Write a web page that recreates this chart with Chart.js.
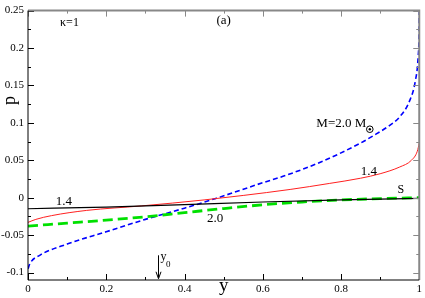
<!DOCTYPE html>
<html lang="en">
<head>
  <meta charset="UTF-8">
  <title>p vs y</title>
  <script src="https://cdn.jsdelivr.net/npm/chart.js"></script>
  <style>
    body { margin: 0; background: white; }
    #wrap { width: 425px; height: 298px; position: relative; }
  </style>
</head>
<body>
  <div id="wrap"><canvas id="myChart"></canvas></div>
  <script>
    // values
    const blueX = [0, 0.005, 0.03, 0.1, 0.2, 0.3, 0.4, 0.48, 0.6, 0.66, 0.75, 0.85, 0.88, 0.92, 0.95, 0.975, 0.99, 0.997, 0.9995, 1.0];
    const blueP = [-0.095, -0.088, -0.077, -0.062, -0.0455, -0.029, -0.014, -0.001, 0.020, 0.030, 0.048, 0.073, 0.082, 0.095, 0.108, 0.129, 0.156, 0.187, 0.221, 0.25];

    const redX = [0, 0.02, 0.06, 0.15, 0.29, 0.45, 0.55, 0.67, 0.77, 0.85, 0.9, 0.95, 0.98, 0.995, 1.0];
    const redP = [-0.033, -0.029, -0.024, -0.017, -0.011, -0.003, 0.003, 0.011, 0.019, 0.026, 0.032, 0.041, 0.050, 0.062, 0.073];

    const blackX = [0, 0.2, 0.4, 0.6, 0.8, 1.0];
    const blackP = [-0.0148, -0.0125, -0.0092, -0.0058, -0.003, -0.0008];

    const greenX = [0, 0.1, 0.2, 0.3, 0.4, 0.5, 0.6, 0.7, 0.8, 0.9, 1.0];
    const greenP = [-0.038, -0.034, -0.030, -0.0255, -0.020, -0.0145, -0.0095, -0.0058, -0.003, -0.0012, 0];

    const xMajor = [0, 0.2, 0.4, 0.6, 0.8, 1.0];
    const yMajor = [-0.1, -0.05, 0, 0.05, 0.1, 0.15, 0.2, 0.25];

    const pts = (xs, ys) => xs.map((x, i) => ({ x: x, y: ys[i] }));
    const fmt = v => String(Number(v.toFixed(3)));

    const serif = '"Liberation Serif", "DejaVu Serif", serif';

    // frame, inward ticks and the text labels
    const decor = {
      id: 'decor',
      afterDraw(chart) {
        const ctx = chart.ctx;
        const a = chart.chartArea;
        const xs = chart.scales.x, ys = chart.scales.y;
        ctx.save();

        // ticks
        const tick = (px, py, dx, dy, col) => {
          ctx.strokeStyle = col;
          ctx.lineWidth = 1;
          ctx.beginPath();
          ctx.moveTo(px, py);
          ctx.lineTo(px + dx, py + dy);
          ctx.stroke();
        };
        for (let i = 0; i <= 10; i++) {
          const v = i / 10;
          const len = i % 2 === 0 ? 6 : 3;
          const px = Math.round(xs.getPixelForValue(v)) + 0.5;
          tick(px, a.bottom, 0, -len, '#000');
          tick(px, a.top, 0, len, '#888');
        }
        for (let i = -4; i <= 10; i++) {
          const v = i * 0.025;
          const len = i % 2 === 0 ? 6 : 3;
          const py = Math.round(ys.getPixelForValue(v)) + 0.5;
          tick(a.left, py, len, 0, '#000');
          tick(a.right, py, -len, 0, '#888');
        }

        // frame
        ctx.lineWidth = 2;
        ctx.strokeStyle = '#888';
        ctx.beginPath();
        ctx.moveTo(a.left, a.top);
        ctx.lineTo(a.right, a.top);
        ctx.lineTo(a.right, a.bottom);
        ctx.stroke();
        ctx.lineWidth = 1;
        ctx.strokeStyle = '#000';
        ctx.beginPath();
        ctx.moveTo(a.left, a.top);
        ctx.lineTo(a.left, a.bottom);
        ctx.lineTo(a.right, a.bottom);
        ctx.stroke();

        // labels
        const X = v => xs.getPixelForValue(v);
        const Y = v => ys.getPixelForValue(v);
        ctx.fillStyle = '#000';
        ctx.textBaseline = 'middle';
        ctx.textAlign = 'center';
        ctx.font = '12px ' + serif;
        ctx.fillText('\u03ba=1', X(0.106), Y(0.233));
        ctx.font = '13px ' + serif;
        ctx.fillText('(a)', X(0.5), Y(0.236));
        ctx.fillText('1.4', X(0.092), Y(-0.0052));
        ctx.fillText('1.4', X(0.871), Y(0.0353));
        ctx.fillText('2.0', X(0.478), Y(-0.0275));
        ctx.font = '12px ' + serif;
        ctx.fillText('S', X(0.953), Y(0.010));

        ctx.textAlign = 'left';
        ctx.font = '13px ' + serif;
        const mx = X(0.737), my = Y(0.0995);
        ctx.fillText('M=2.0 M', mx, my);
        const w = ctx.measureText('M=2.0 M').width;
        // sun symbol as subscript
        ctx.lineWidth = 1;
        ctx.beginPath();
        ctx.arc(mx + w + 3.5, my + 6, 3.3, 0, Math.PI * 2);
        ctx.stroke();
        ctx.beginPath();
        ctx.arc(mx + w + 3.5, my + 6, 1.2, 0, Math.PI * 2);
        ctx.fill();

        // y0 arrow
        const ax = Math.round(X(0.333)) + 0.5;
        ctx.beginPath();
        ctx.moveTo(ax, Y(-0.077));
        ctx.lineTo(ax, Y(-0.107));
        ctx.stroke();
        ctx.beginPath();
        ctx.moveTo(ax - 2.5, Y(-0.107) - 6);
        ctx.lineTo(ax, Y(-0.107) + 1);
        ctx.lineTo(ax + 2.5, Y(-0.107) - 6);
        ctx.stroke();
        ctx.font = '12px ' + serif;
        ctx.fillText('y', ax + 2, Y(-0.079));
        ctx.font = '9px ' + serif;
        ctx.fillText('0', ax + 7.5, Y(-0.090));

        // axis titles
        ctx.textAlign = 'center';
        ctx.textBaseline = 'alphabetic';
        ctx.font = '19px ' + serif;
        ctx.fillText('y', X(0.5), 291);
        ctx.save();
        ctx.translate(15, Y(0.13));
        ctx.rotate(-Math.PI / 2);
        ctx.font = '18px ' + serif;
        ctx.fillText('p', 0, 0);
        ctx.restore();

        ctx.restore();
      }
    };

    const line = (xs, ys, color, width, dash) => ({
      data: pts(xs, ys),
      borderColor: color,
      borderWidth: width,
      borderDash: dash,
      showLine: true,
      pointRadius: 0,
      cubicInterpolationMode: 'monotone',
      fill: false
    });

    const myChart = new Chart(document.getElementById('myChart'), {
      type: 'scatter',
      data: {
        datasets: [
          line(blackX, blackP, '#000000', 1.2, []),
          line(redX, redP, '#ff2020', 1, []),
          line(greenX, greenP, '#00e000', 2.8, [10, 5]),
          line(blueX, blueP, '#0000ff', 1.6, [5, 3])
        ]
      },
      options: {
        animation: false,
        responsive: true,
        maintainAspectRatio: false,
        layout: { padding: { left: 0, right: 5, top: 5, bottom: 0 } },
        plugins: { legend: { display: false }, tooltip: { enabled: false } },
        scales: {
          x: {
            type: 'linear',
            min: 0,
            max: 1,
            grid: { display: false, drawTicks: false },
            border: { display: false },
            afterBuildTicks: s => { s.ticks = xMajor.map(v => ({ value: v })); },
            afterFit: s => { s.height = 18; },
            ticks: {
              padding: 3,
              maxRotation: 0,
              autoSkip: false,
              color: '#000',
              font: { family: serif, size: 11 },
              callback: v => fmt(v)
            }
          },
          y: {
            type: 'linear',
            min: -0.11,
            max: 0.25,
            grid: { display: false, drawTicks: false },
            border: { display: false },
            afterBuildTicks: s => { s.ticks = yMajor.map(v => ({ value: v })); },
            afterFit: s => { s.width = 28; },
            ticks: {
              padding: 4,
              autoSkip: false,
              color: '#000',
              font: { family: serif, size: 11 },
              callback: v => fmt(v)
            }
          }
        }
      },
      plugins: [decor]
    });
  </script>
</body>
</html>
